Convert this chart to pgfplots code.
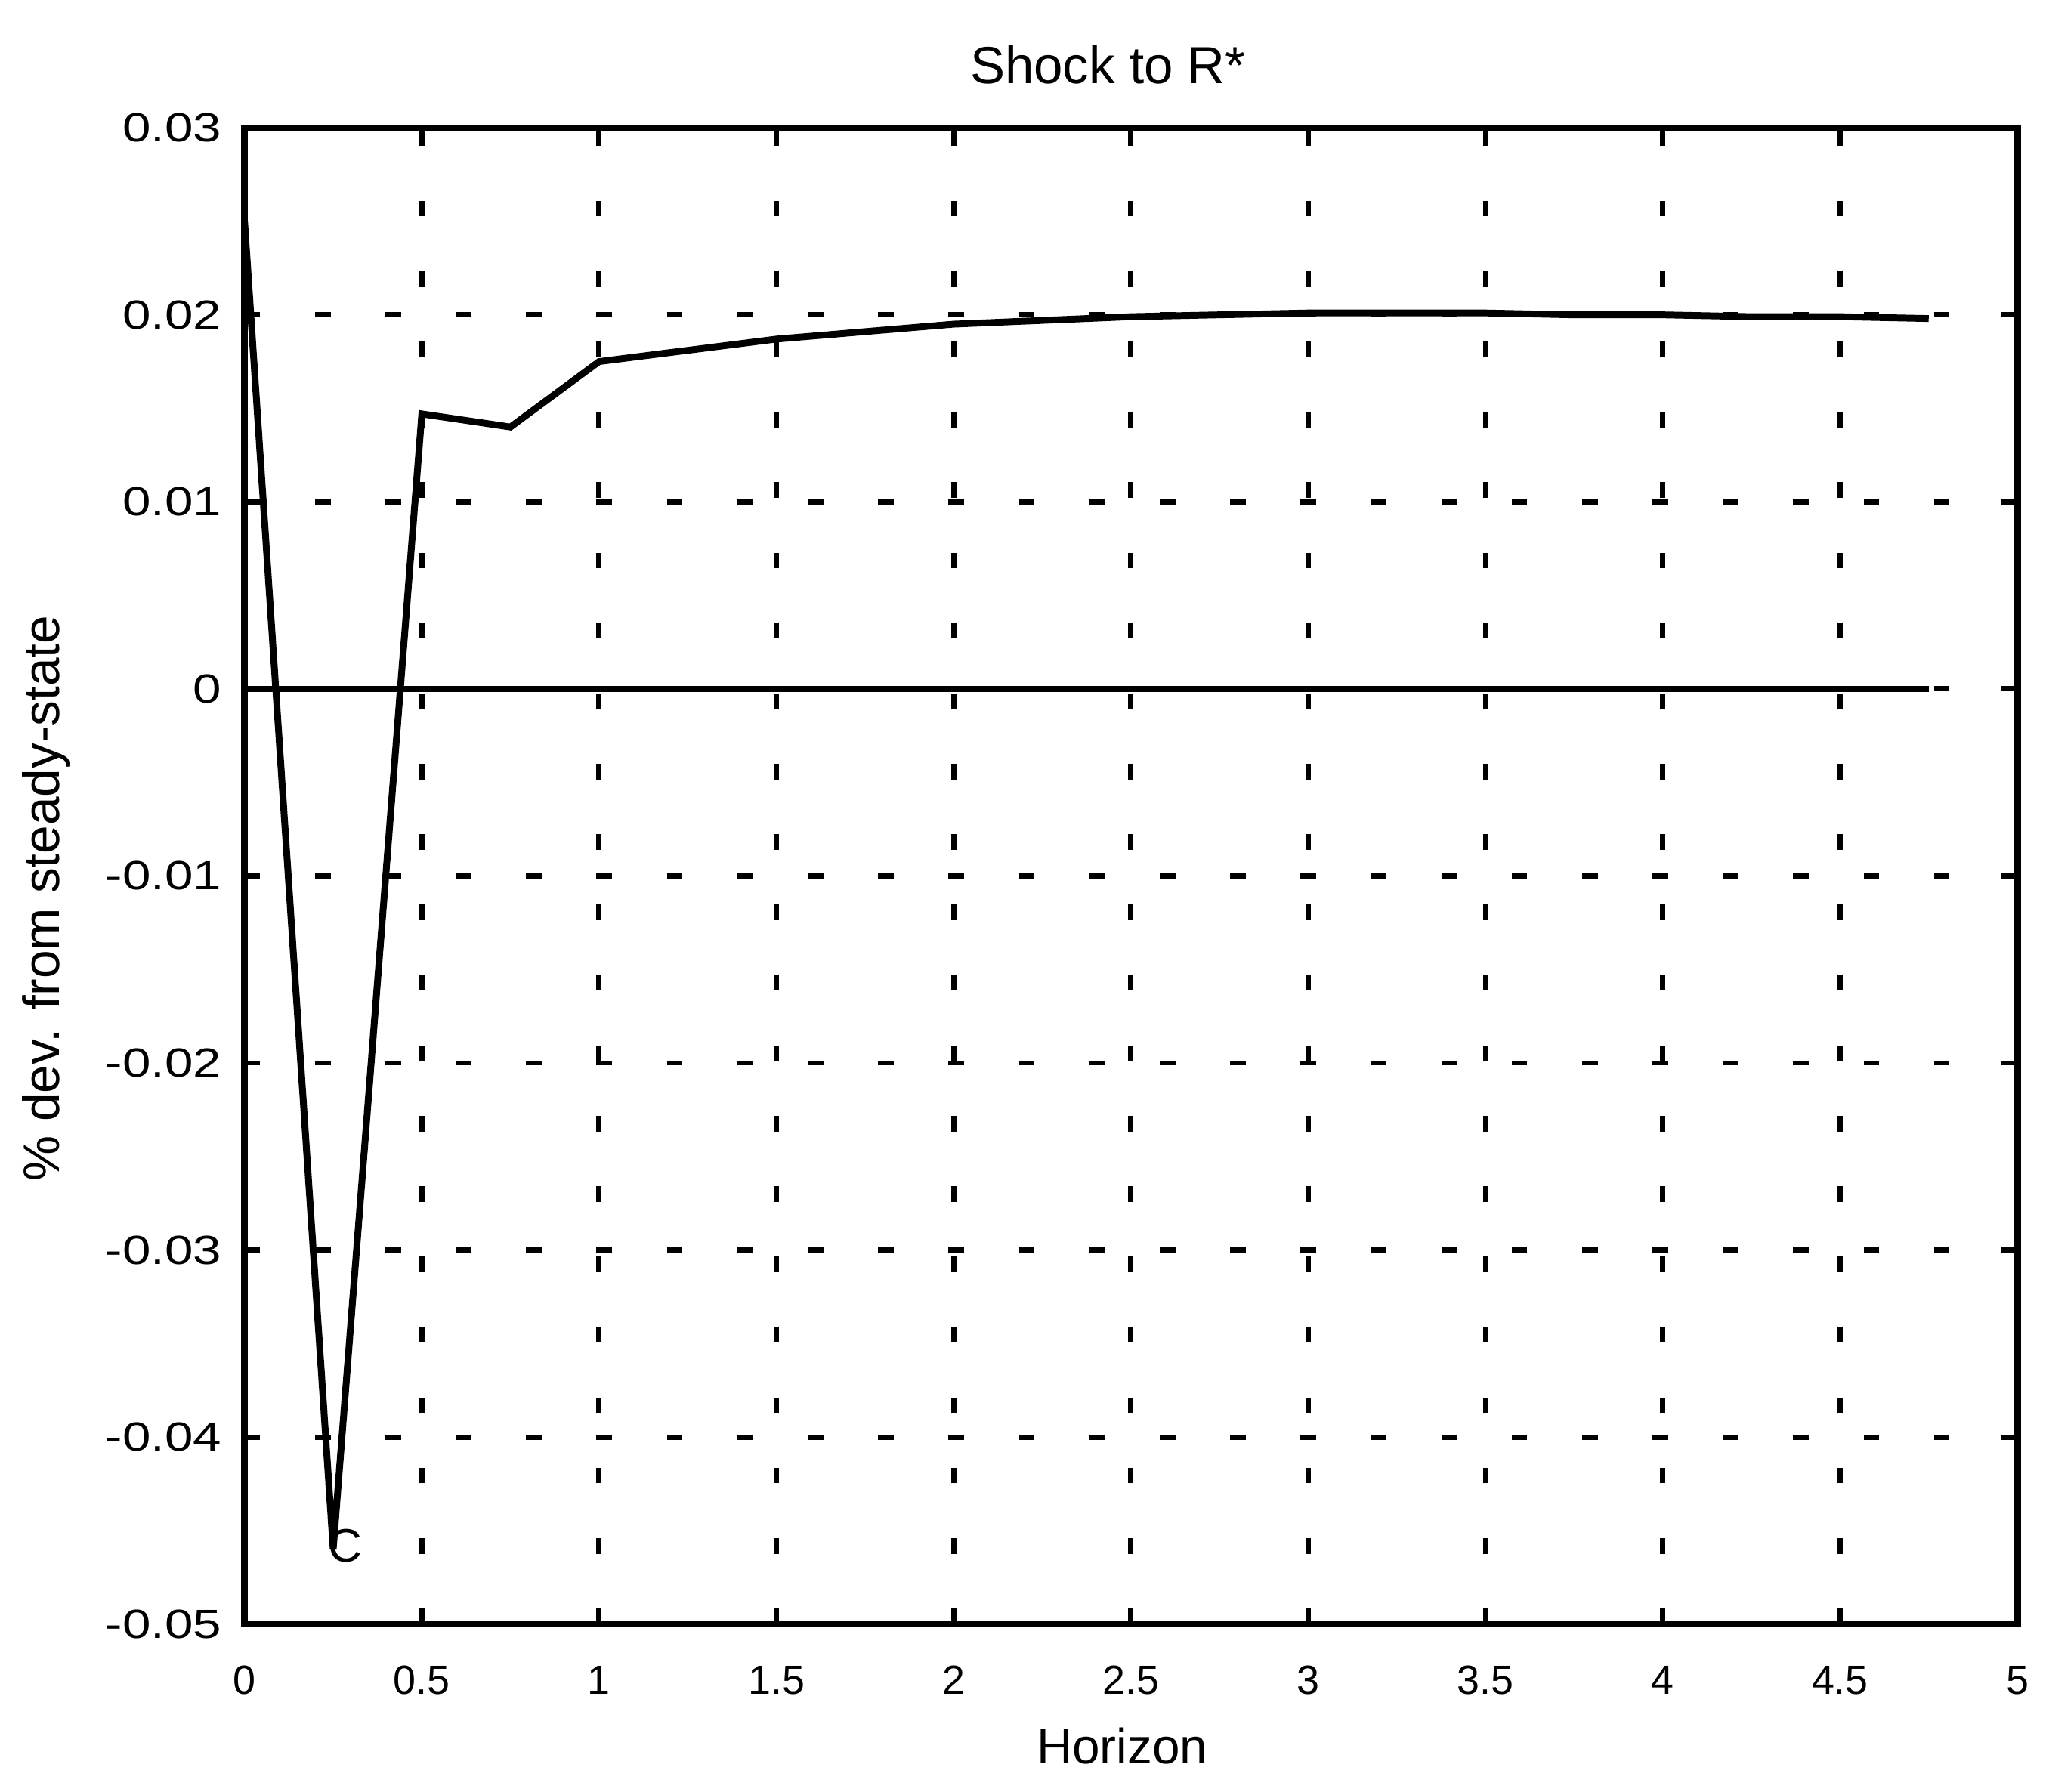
\documentclass[border=0pt]{standalone}
\usepackage{fontspec}
\setmainfont{Liberation Sans}
\usepackage{pgfplots}
\pgfplotsset{compat=1.18}

\begin{document}
\begin{tikzpicture}
\begin{axis}[
    scale only axis,
    width=340pt, height=287pt,
    xmin=0, xmax=5, ymin=-0.05, ymax=0.03,
    xtick={0,0.5,1,1.5,2,2.5,3,3.5,4,4.5,5},
    xticklabels={0,0.5,1,1.5,2,2.5,3,3.5,4,4.5,5},
    ytick={-0.05,-0.04,-0.03,-0.02,-0.01,0,0.01,0.02,0.03},
    yticklabels={-0.05,-0.04,-0.03,-0.02,-0.01,0,0.01,0.02,0.03},
    scaled y ticks=false,
    tick align=inside, tick pos=both,
    major tick length=3pt,
    tick style={black, line width=1pt},
    axis line style={black, line width=1.3pt},
    grid=major,
    major grid style={black, line width=1pt, dash pattern=on 3pt off 10.5pt},
    tick label style={font=\fontsize{7.8}{9}\selectfont},
    yticklabel style={xscale=1.25},
    xticklabel style={yshift=-4.5pt},
    title={Shock to R*},
    title style={font=\fontsize{10}{12}\selectfont, at={(axis description cs:0.487,1)}, anchor=center, yshift=6pt},
    xlabel={Horizon},
    xlabel style={font=\fontsize{9.5}{11}\selectfont, at={(axis description cs:0.495,-0.0815)}, anchor=center},
    ylabel={\% dev. from steady-state},
    ylabel style={font=\fontsize{9.8}{11}\selectfont, at={(axis description cs:-0.112,0.485)}, anchor=center},
]
% zero line
\addplot[black, line width=1.1pt, mark=none] coordinates {(0,0) (4.75,0)};
% response of C
\addplot[black, line width=1.3pt, mark=none] coordinates {
    (0,0.0250) (0.25,-0.0460) (0.5,0.0147) (0.75,0.0140) (1,0.0175)
    (1.25,0.0181) (1.5,0.0187) (1.75,0.0191) (2,0.0195) (2.25,0.0197)
    (2.5,0.0199) (2.75,0.0200) (3,0.0201) (3.25,0.0201) (3.5,0.0201)
    (3.75,0.0200) (4,0.0200) (4.25,0.0199) (4.5,0.0199) (4.75,0.0198)
};
\node[font=\fontsize{9}{10}\selectfont, inner sep=0pt] at (axis cs:0.283,-0.0458) {C};
\end{axis}
\path ([xshift=-46.9pt,yshift=-32.2pt]current axis.south west)
    rectangle ([xshift=4pt,yshift=24.5pt]current axis.north east);
\end{tikzpicture}
\end{document}
